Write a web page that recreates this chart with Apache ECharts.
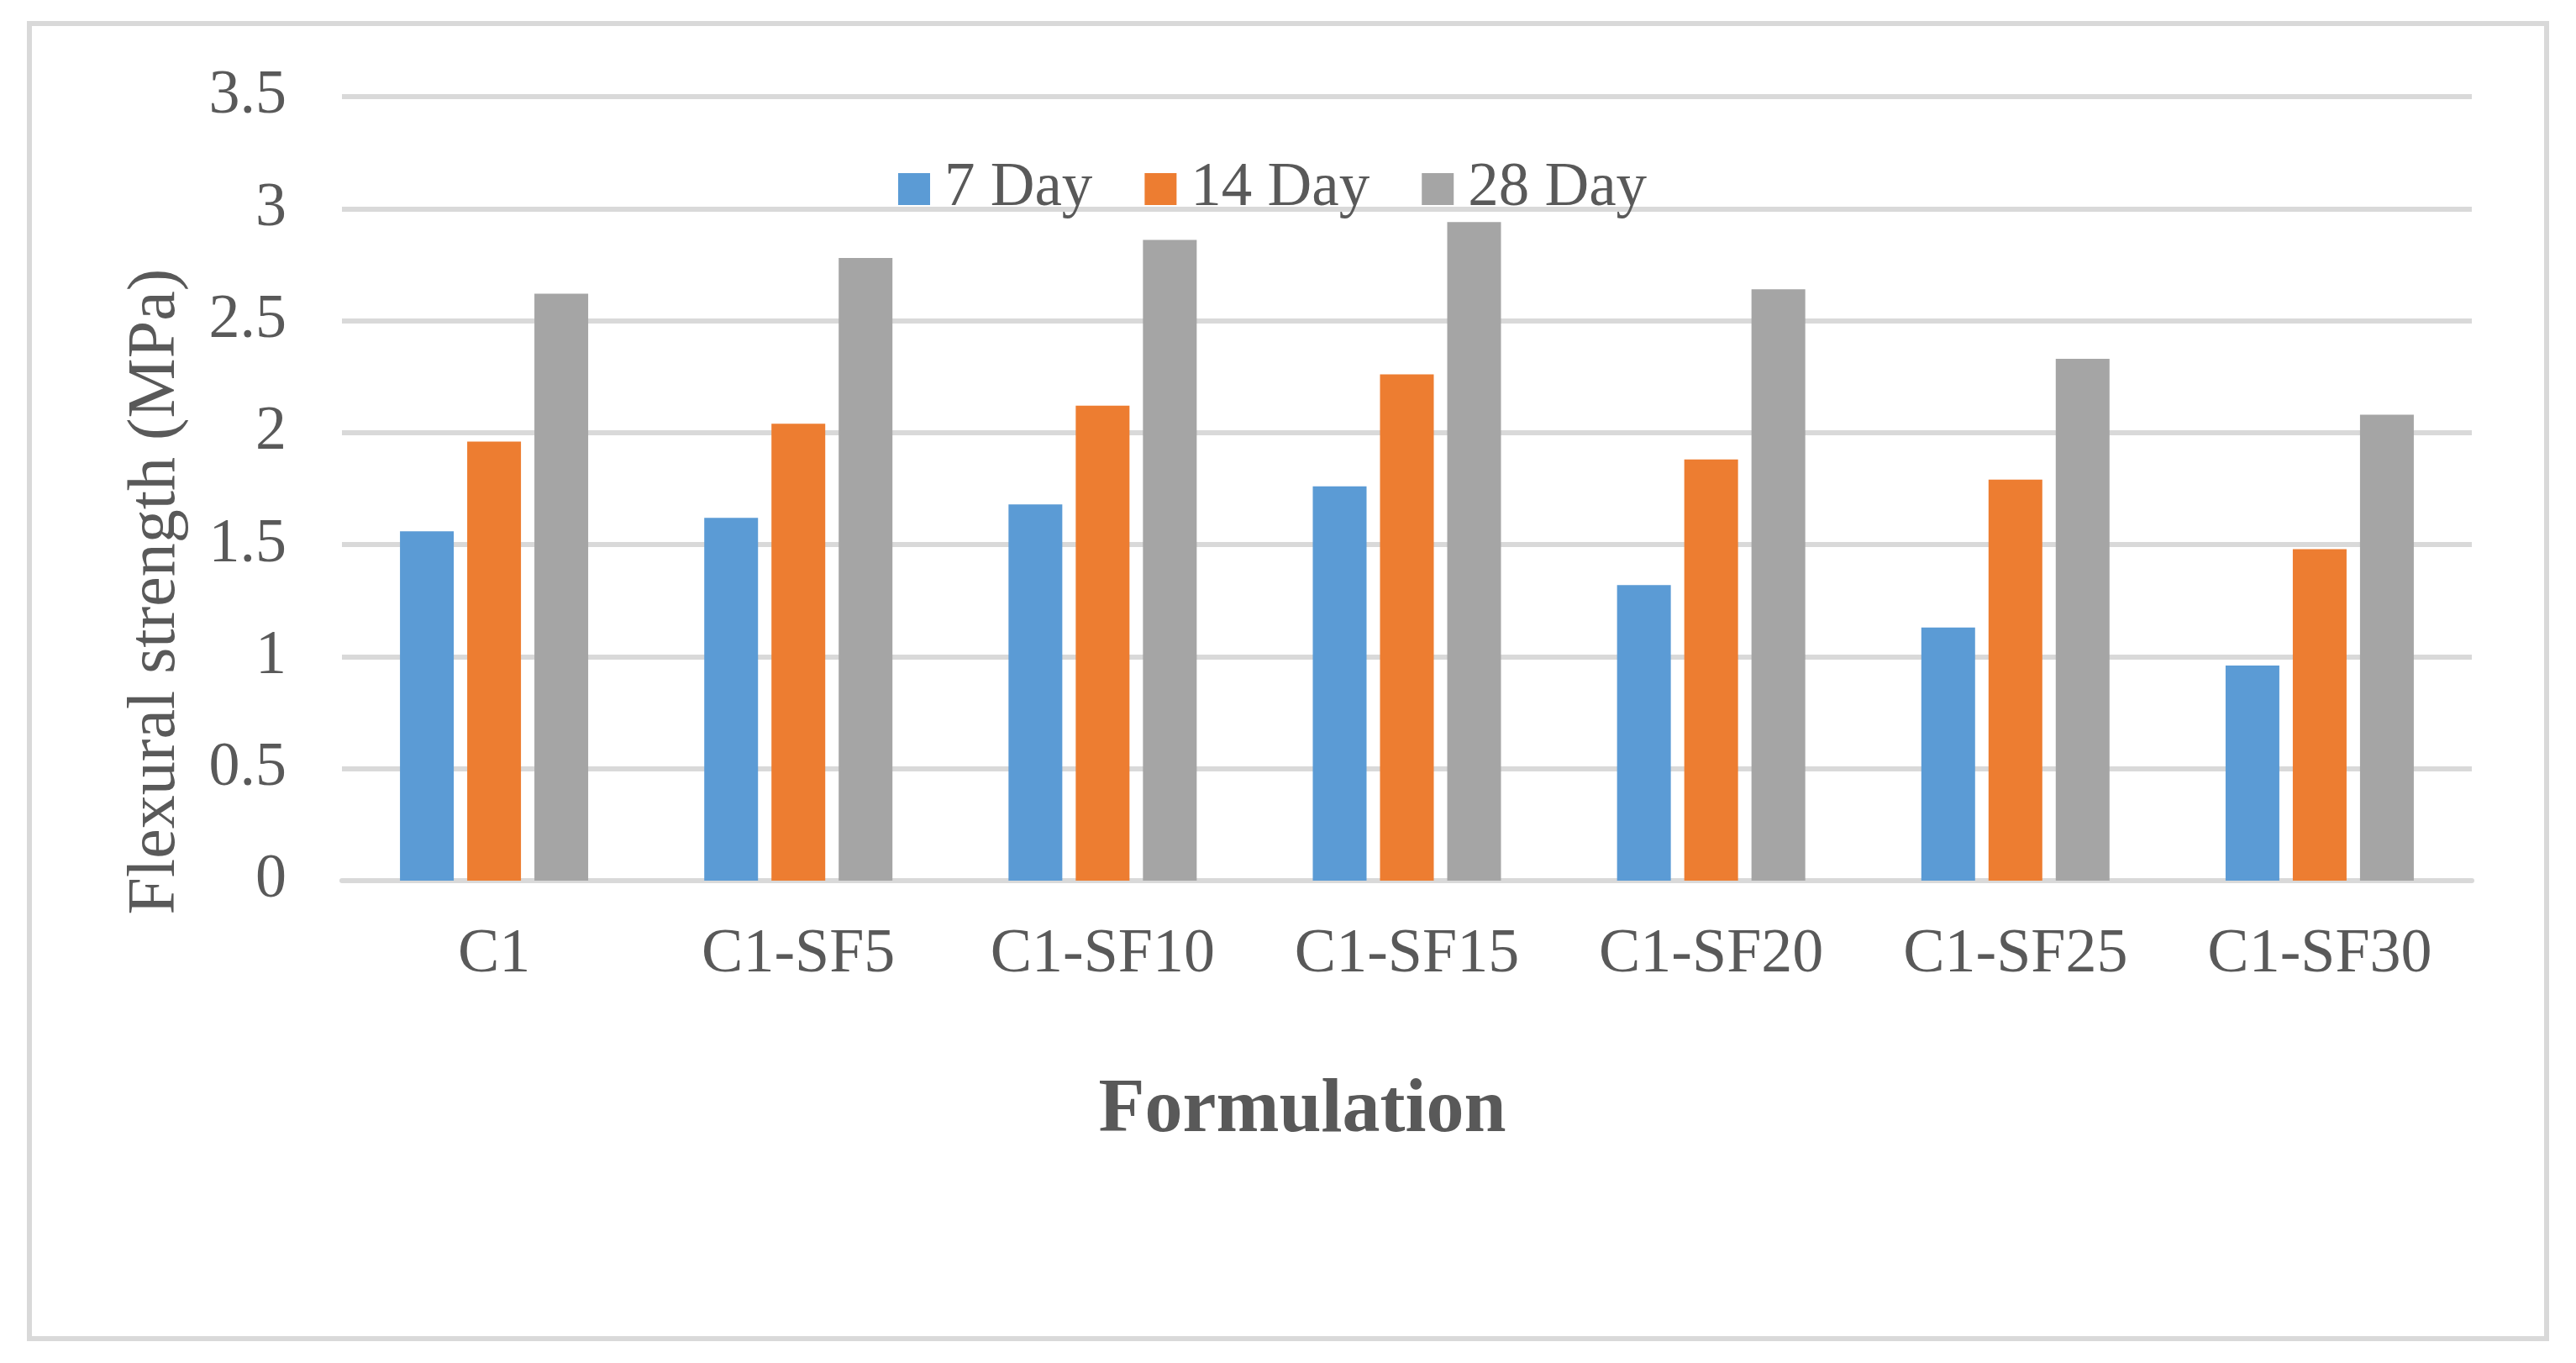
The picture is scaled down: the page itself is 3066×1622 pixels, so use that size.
<!DOCTYPE html>
<html>
<head>
<meta charset="utf-8">
<script src="https://cdn.jsdelivr.net/npm/echarts@6/dist/echarts.min.js"></script>
<style>
html,body{margin:0;padding:0;background:#fff;}
#chart{width:3066px;height:1622px;}
</style>
</head>
<body>
<div id="chart"></div>
<script>
const categories = ['C1', 'C1-SF5', 'C1-SF10', 'C1-SF15', 'C1-SF20', 'C1-SF25', 'C1-SF30'];
const seriesNames = ['7 Day', '14 Day', '28 Day'];
const day7 = [1.56, 1.62, 1.68, 1.76, 1.32, 1.13, 0.96];
const day14 = [1.96, 2.04, 2.12, 2.26, 1.88, 1.79, 1.48];
const day28 = [2.62, 2.78, 2.86, 2.94, 2.64, 2.33, 2.08];
const yTitle = 'Flexural strength (MPa)';
const xTitle = 'Formulation';

const FONT = "'Liberation Serif', 'Times New Roman', serif";
const TXT = '#595959';
const colors = ['#5B9BD5', '#ED7D31', '#A5A5A5'];

const chart = echarts.init(document.getElementById('chart'), null, {renderer: 'canvas'});
const values = [day7, day14, day28];
chart.setOption({
  animation: false,
  backgroundColor: '#ffffff',
  color: colors,
  grid: {left: 407, right: 124, top: 115, bottom: 574, containLabel: false},
  legend: {
    left: 1064, top: 183,
    itemWidth: 38, itemHeight: 38, itemGap: 62,
    icon: 'rect',
    data: seriesNames,
    textStyle: {fontSize: 73, fontFamily: FONT, color: TXT, padding: [0, 0, 0, 12], lineHeight: 74}
  },
  xAxis: {
    type: 'category',
    data: categories,
    axisLine: {show: true, lineStyle: {color: '#d9d9d9', width: 6}},
    axisTick: {show: false},
    axisLabel: {fontSize: 74, fontFamily: FONT, color: TXT, margin: 52, interval: 0}
  },
  yAxis: {
    type: 'value',
    min: 0, max: 3.5, interval: 0.5,
    axisLine: {show: false},
    axisTick: {show: false},
    axisLabel: {fontSize: 74, fontFamily: FONT, color: TXT, margin: 66},
    splitLine: {lineStyle: {color: '#d9d9d9', width: 6}}
  },
  series: seriesNames.map((n, i) => ({
    name: n,
    type: 'bar',
    data: values[i],
    barWidth: 64,
    barGap: '25%',
    itemStyle: {color: colors[i]}
  })),
  graphic: [
    {
      type: 'rect', silent: true,
      shape: {x: 35, y: 28, width: 2996, height: 1565},
      style: {fill: 'none', stroke: '#d9d9d9', lineWidth: 6}
    },
    {
      type: 'text', x: 186, y: 704, rotation: Math.PI / 2,
      style: {text: yTitle, fontSize: 80, fontFamily: FONT, fill: TXT,
        align: 'center', verticalAlign: 'middle', textAlign: 'center', textVerticalAlign: 'middle'}
    },
    {
      type: 'text', x: 1550, y: 1323,
      style: {text: xTitle, fontSize: 90, fontWeight: 'bold', fontFamily: FONT, fill: TXT,
        align: 'center', verticalAlign: 'middle', textAlign: 'center', textVerticalAlign: 'middle'}
    }
  ]
});
</script>
</body>
</html>
